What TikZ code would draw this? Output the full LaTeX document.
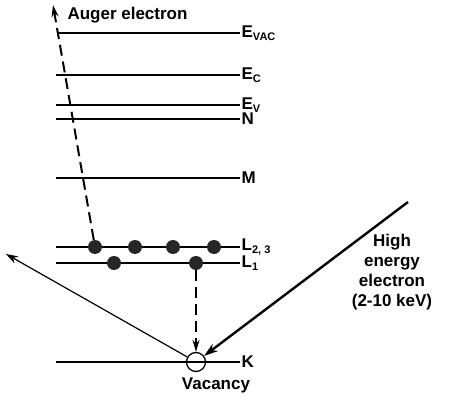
\documentclass[tikz,border=0pt]{standalone}
\usepackage{fontspec}
\setmainfont{Liberation Sans}
\usetikzlibrary{arrows.meta}

\newcommand{\lsub}[1]{\raisebox{-3pt}{\fontsize{11}{11}\selectfont #1}}

\begin{document}
\begin{tikzpicture}[
        x=1pt,
        y=-1pt,
        every node/.style={font=\bfseries\fontsize{17}{20}\selectfont},
        level/.style={line width=1.3pt},
        levellabel/.style={anchor=west, inner sep=1pt},
        electron/.style={circle, fill=black!85, inner sep=0pt, minimum size=14pt},
        hole/.style={circle, draw, line width=1.3pt, inner sep=0pt, minimum size=19pt},
        jump/.style={line width=2pt, dash pattern=on 11pt off 6pt, -{Stealth[length=12pt, width=7pt]}},
        beam/.style={line width=2.4pt, -{Stealth[length=14pt, width=9pt]}},
        scatter/.style={line width=1.2pt, -{Stealth[length=12pt, width=8pt]}}
    ]
        \useasboundingbox (0,0) rectangle (451,409);

        % Energy levels
        \draw[level] (57,33) -- (240,33) node[levellabel] (evac) {E\lsub{VAC}};
        \draw[level] (56,75) -- (240,75) node[levellabel] (ec) {E\lsub{C}};
        \draw[level] (56,105) -- (240,105) node[levellabel] (ev) {E\lsub{V}};
        \draw[level] (56,119) -- (240,119) node[levellabel] (n) {N};
        \draw[level] (56,178) -- (240,178) node[levellabel] (m) {M};
        \draw[level] (56,247) -- (240,247) node[levellabel] (l23) {L\lsub{2, 3}};
        \draw[level] (56,263) -- (240,263) node[levellabel] (l1) {L\lsub{1}};
        \draw[level] (56,362) -- (240,362) node[levellabel] (k) {K};

        % Electrons
        \node[electron] (a1) at (95,247) {};
        \node[electron] (a2) at (135,247) {};
        \node[electron] (a3) at (173,247) {};
        \node[electron] (a4) at (214,247) {};
        \node[electron] (b1) at (114,263) {};
        \node[electron] (b2) at (196,263) {};

        % Vacancy
        \node[hole] (vac) at (196,362) {};
        \node (vaclabel) at (216,385) {Vacancy};

        % Labels
        \node[anchor=west] (auger) at (64,15) {Auger electron};
        \node[align=center] (incident) at (392,272) {High\\energy\\electron\\(2-10 keV)};

        % Transitions
        \coordinate (augerend) at (53,5);
        \coordinate (beamstart) at (408,202);
        \coordinate (scatterend) at (6,254);
        \draw[jump] (a1) -- (augerend);
        \draw[jump] (b2) -- (vac);
        \draw[beam] (beamstart) -- (vac);
        \draw[scatter] (vac.150) -- (scatterend);
    \end{tikzpicture}
\end{document}
